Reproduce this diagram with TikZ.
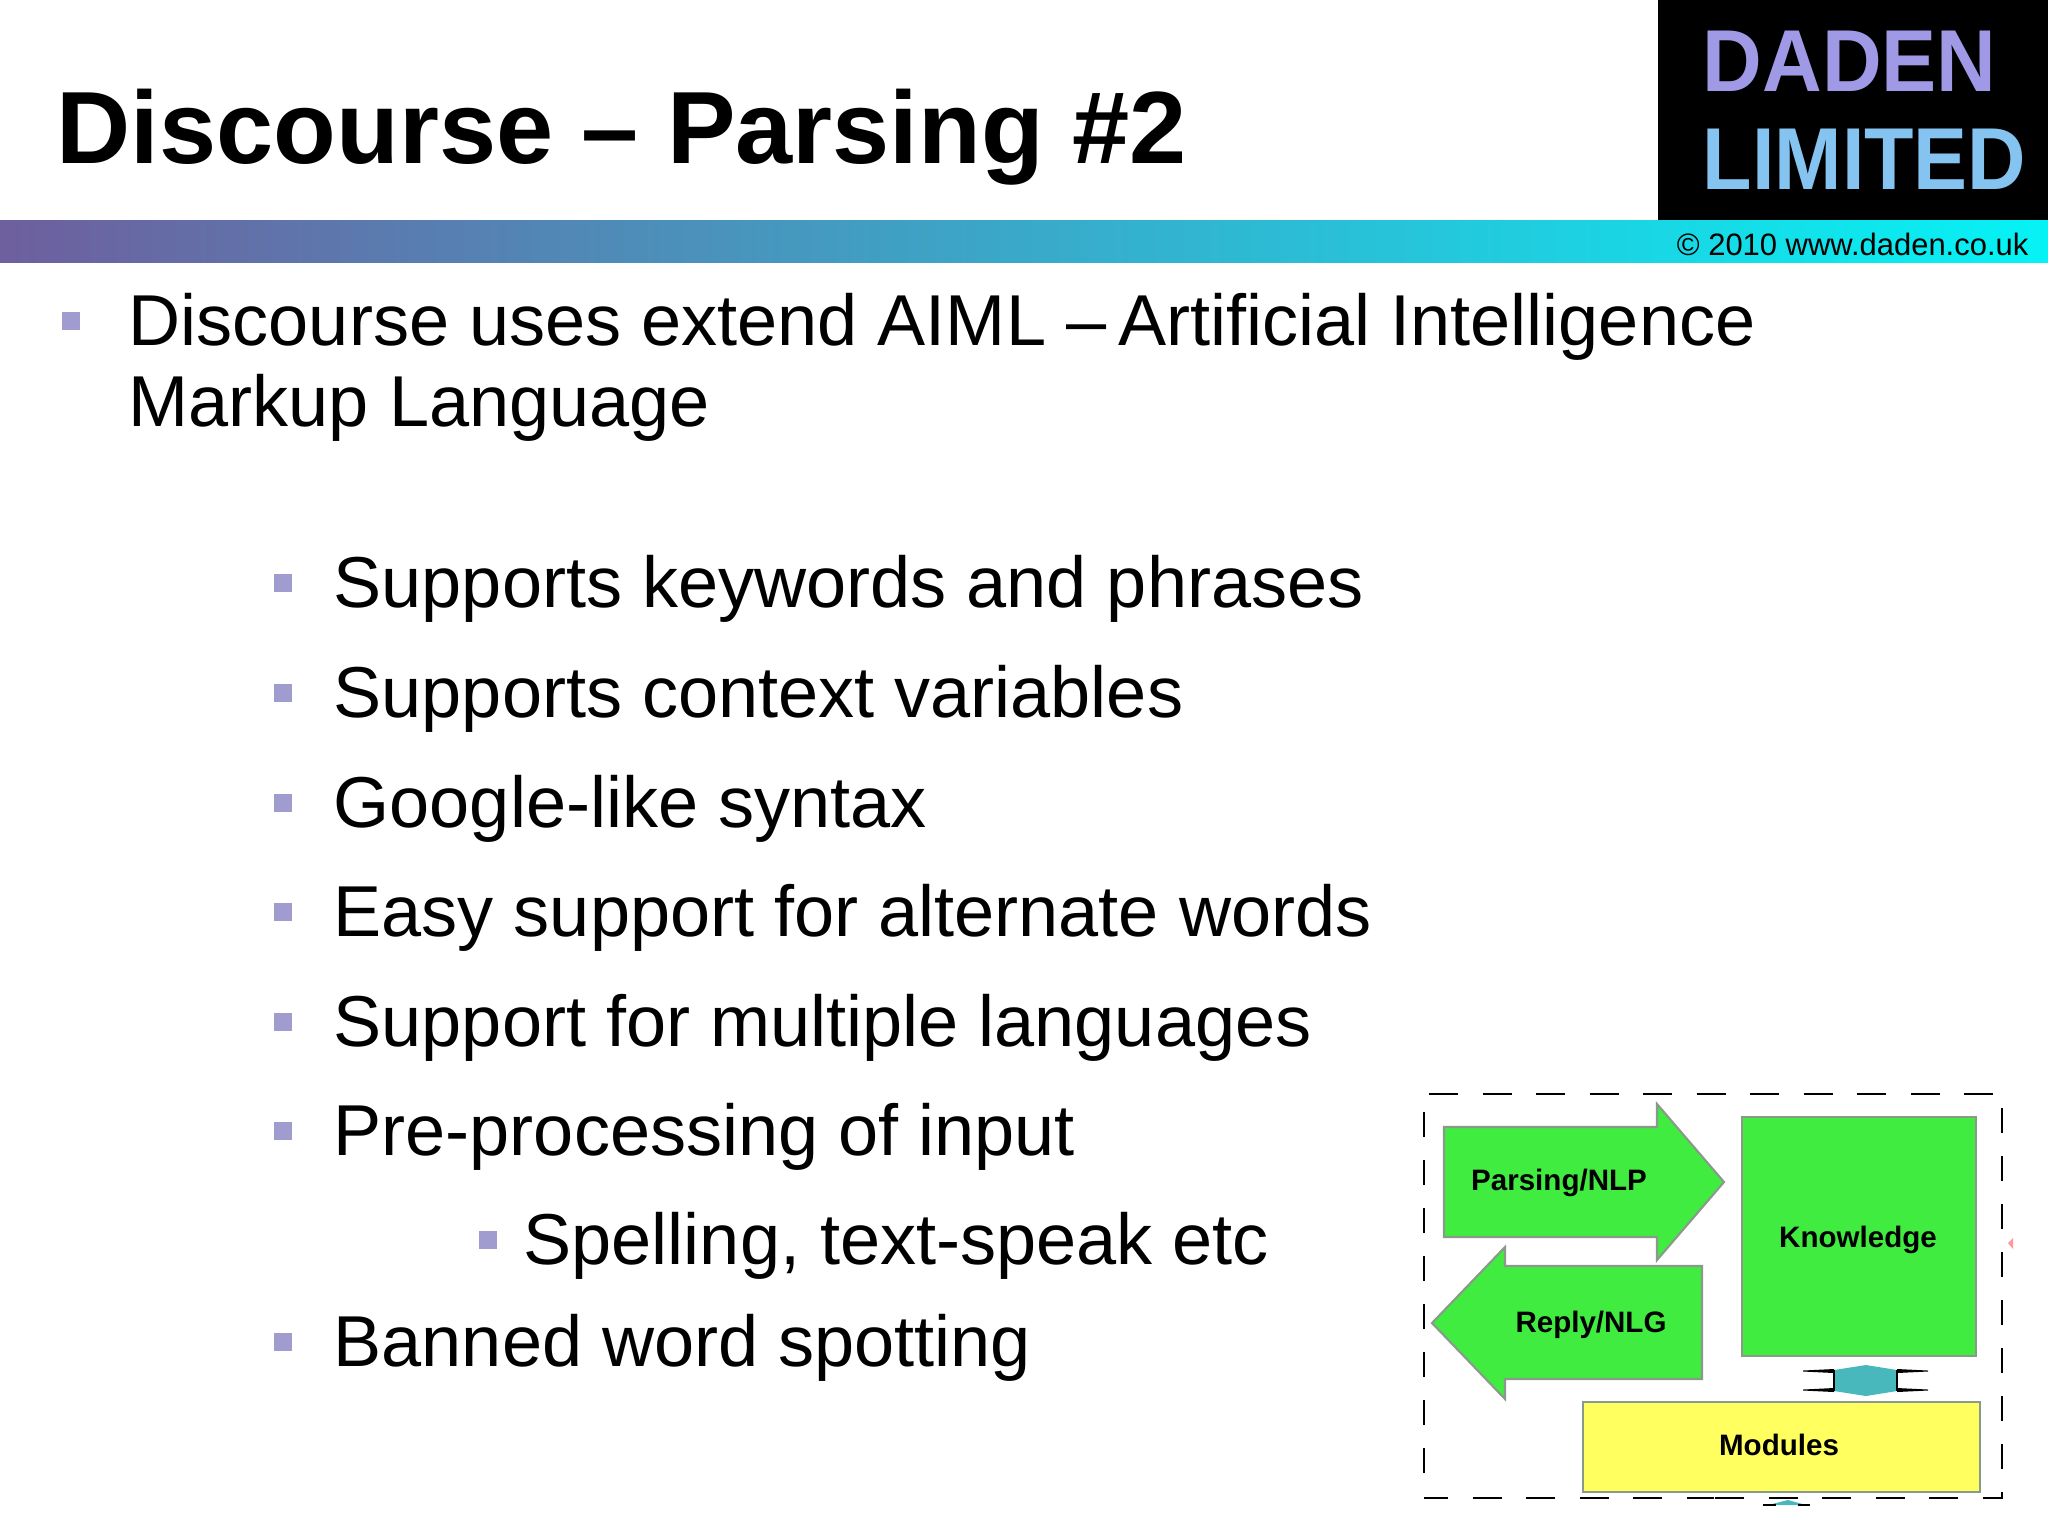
\documentclass[tikz,border=0pt]{standalone}
\usepackage{fontspec}
\setmainfont{Liberation Sans}
\usepackage{tikz}
\usetikzlibrary{positioning, calc}
\definecolor{barleft}{HTML}{6E5F9E}
\definecolor{barright}{HTML}{05F3F5}
\definecolor{bulletblue}{HTML}{A09CD0}
\definecolor{logolilac}{HTML}{A099E6}
\definecolor{logosky}{HTML}{85C4F0}
\definecolor{blockgreen}{HTML}{40EC40}
\definecolor{blockyellow}{HTML}{FFFF60}
\definecolor{linkteal}{HTML}{48B8BC}
\definecolor{blockedge}{HTML}{8A9A8A}

\begin{document}
\begin{tikzpicture}[
    x=0.01cm, y=-0.01cm,
    heading/.style={anchor=base west, inner sep=0pt, font=\fontsize{29.2}{34}\selectfont\bfseries},
    bodytext/.style={anchor=base west, inner sep=0pt, font=\fontsize{20.5}{25}\selectfont},
    bulletbox/.style={rectangle, fill=bulletblue, inner sep=0pt, minimum size=0.18cm},
    logotext/.style={anchor=base west, inner sep=0pt, font=\fontsize{25}{30}\selectfont\bfseries},
    blocktext/.style={anchor=base, inner sep=0pt, font=\fontsize{8.4}{10}\selectfont\bfseries},
    block/.style={draw=blockedge, line width=0.6pt},
    dashwide/.style={black, line width=0.6pt, dash pattern=on 0.29cm off 0.245cm},
    dashtall/.style={black, line width=0.6pt, dash pattern=on 0.25cm off 0.23cm},
    spike/.style={black, line width=0.5pt}
]
    \useasboundingbox (0,0) rectangle (2048,1535);
    \fill[white] (0,0) rectangle (2048,1535);

    % Title bar
    \node[heading] (title) at (56, 163) {Discourse – Parsing \#2};
    \shade[left color=barleft, right color=barright] (0,220) rectangle (2048,262);

    % Logo
    \fill[black] (1658,0) rectangle (2048,220);
    \node[logotext, text=logolilac] (daden) at (1702, 91) {\scalebox{0.94}[1]{DADEN}};
    \node[logotext, text=logosky] (limited) at (1702, 189) {\scalebox{0.92}[1]{LIMITED}};
    \node[anchor=base east, inner sep=0pt, font=\fontsize{8.8}{10}\selectfont] (copy) at (2029, 255) {© 2010 www.daden.co.uk};

    % Main bullet
    \node[bulletbox] (b0) at (71, 321) {};
    \node[bodytext] (t0) at (128, 345) {Discourse uses extend AIML –\hspace{-0.08cm} Artificial Intelligence};
    \node[bodytext] (t0b) at (128, 426) {Markup Language};

    % Sub bullets
    \node[bulletbox] (b1) at (283, 583) {};
    \node[bodytext] (t1) at (333, 607) {Supports keywords and phrases};
    \node[bulletbox] (b2) at (283, 693) {};
    \node[bodytext] (t2) at (333, 717) {Supports context variables};
    \node[bulletbox] (b3) at (283, 803) {};
    \node[bodytext] (t3) at (333, 827) {Google-like syntax};
    \node[bulletbox] (b4) at (283, 912) {};
    \node[bodytext] (t4) at (333, 936) {Easy support for alternate words};
    \node[bulletbox] (b5) at (283, 1022) {};
    \node[bodytext] (t5) at (333, 1046) {Support for multiple languages};
    \node[bulletbox] (b6) at (283, 1131) {};
    \node[bodytext] (t6) at (333, 1155) {Pre-processing of input};
    \node[bulletbox] (b7) at (488, 1240) {};
    \node[bodytext] (t7) at (523, 1264) {Spelling, text-speak etc};
    \node[bulletbox] (b8) at (283, 1342) {};
    \node[bodytext] (t8) at (333, 1366) {Banned word spotting};

    % Dashed frame
    \draw[dashwide] (1429,1094) -- (2002,1094);
    \draw[dashtall] (1424,1112) -- (1424,1473);
    \draw[dashtall] (2002,1108) -- (2002,1499);
    \draw[dashwide, dash phase=0.05cm] (1424,1498) -- (1714,1498);
    \draw[dashwide] (1715,1498) -- (2002,1498);

    % Blocks
    \draw[block, fill=blockgreen] (1444,1127) -- (1657,1127) -- (1657,1104) -- (1724,1182)
        -- (1657,1260) -- (1657,1237) -- (1444,1237) -- cycle;
    \node[blocktext] (parsing) at (1559, 1190) {Parsing/NLP};
    \draw[block, fill=blockgreen] (1702,1266) -- (1505,1266) -- (1505,1247) -- (1432,1323)
        -- (1505,1399) -- (1505,1379) -- (1702,1379) -- cycle;
    \node[blocktext] (reply) at (1591, 1332) {Reply/NLG};
    \node[block, fill=blockgreen, minimum width=2.34cm, minimum height=2.39cm] (know) at (1859, 1236.5) {};
    \node[blocktext] (knowtext) at (1858, 1247) {Knowledge};
    \node[block, fill=blockyellow, minimum width=3.97cm, minimum height=0.90cm] (mods) at (1781.5, 1447) {};
    \node[blocktext] (modstext) at (1779, 1455) {Modules};

    % Link between blocks
    \fill[linkteal] (1834,1370) -- (1866,1365) -- (1897,1370) -- (1897,1391) -- (1866,1396) -- (1834,1391) -- cycle;
    \draw[spike, line width=0.7pt] (1834,1370) -- (1834,1391);
    \draw[spike, line width=0.7pt] (1897,1370) -- (1897,1391);
    \fill[black] (1803,1370.5) -- (1834,1369) -- (1834,1373) -- (1803,1371.5) -- cycle;
    \fill[black] (1803,1389.5) -- (1834,1388) -- (1834,1392) -- (1803,1390.5) -- cycle;
    \fill[black] (1928,1370.5) -- (1897,1369) -- (1897,1373) -- (1928,1371.5) -- cycle;
    \fill[black] (1928,1389.5) -- (1897,1388) -- (1897,1392) -- (1928,1390.5) -- cycle;

    % Stray marks
    \fill[red!40] (2008,1243) -- (2013,1238) -- (2013,1249) -- cycle;
    \fill[linkteal] (1768,1505) -- (1788,1500) -- (1806,1505) -- cycle;
    \draw[spike, line width=0.4pt] (1763,1505) -- (1776,1505);
    \draw[spike, line width=0.4pt] (1798,1505) -- (1810,1505);
\end{tikzpicture}
\end{document}
